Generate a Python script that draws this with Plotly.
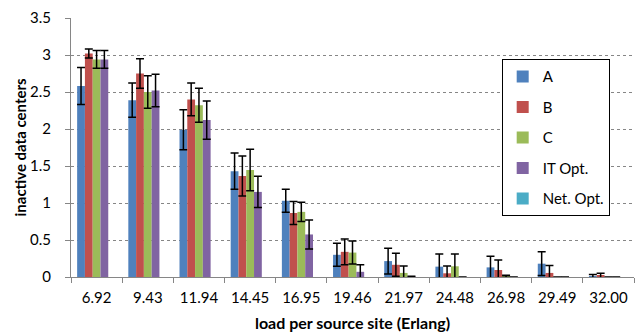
import plotly.graph_objects as go

categories = ["6.92", "9.43", "11.94", "14.45", "16.95", "19.46", "21.97", "24.48", "26.98", "29.49", "32.00"]

a_vals = [2.58, 2.39, 1.99, 1.43, 1.03, 0.30, 0.215, 0.14, 0.13, 0.18, 0.01]
a_err = [0.25, 0.23, 0.27, 0.245, 0.155, 0.155, 0.175, 0.17, 0.15, 0.16, 0.025]
b_vals = [3.02, 2.75, 2.40, 1.365, 0.865, 0.34, 0.165, 0.05, 0.095, 0.055, 0.02]
b_err = [0.06, 0.20, 0.22, 0.27, 0.155, 0.175, 0.155, 0.10, 0.135, 0.10, 0.03]
c_vals = [2.94, 2.50, 2.32, 1.445, 0.88, 0.33, 0.055, 0.145, 0.01, 0, 0]
c_err = [0.12, 0.22, 0.23, 0.28, 0.13, 0.155, 0.095, 0.165, 0.015, None, None]
it_vals = [2.94, 2.52, 2.12, 1.15, 0.575, 0.07, 0.005, 0, 0, 0, 0]
it_err = [0.12, 0.22, 0.26, 0.21, 0.195, 0.095, 0.006, None, None, None, None]
net_vals = [0, 0, 0, 0, 0, 0, 0, 0, 0, 0, 0]

series = [
    ("A", a_vals, a_err, "#4F81BD"),
    ("B", b_vals, b_err, "#C0504D"),
    ("C", c_vals, c_err, "#9BBB59"),
    ("IT Opt.", it_vals, it_err, "#8064A2"),
    ("Net. Opt.", net_vals, None, "#4BACC6"),
]

FONT = "Lato, Carlito, Calibri, sans-serif"

fig = go.Figure()
for i, (name, vals, err, color) in enumerate(series):
    kw = {}
    if err is not None:
        kw["error_y"] = dict(type="data", array=err, visible=True,
                             color="black", thickness=1.5, width=4)
    fig.add_trace(go.Bar(
        x=categories, y=vals, name=name,
        marker=dict(color=color, line=dict(width=0)),
        legendgroup=f"g{i}",
        **kw,
    ))

fig.update_layout(
    width=641, height=335,
    margin=dict(l=71, r=7, t=18, b=58, autoexpand=False),
    paper_bgcolor="white", plot_bgcolor="white",
    barmode="group", bargap=0.24, bargroupgap=0,
    font=dict(family=FONT, size=15, color="black"),
    showlegend=True,
    legend=dict(
        x=0.765, y=0.841, xanchor="left", yanchor="top",
        bordercolor="black", borderwidth=1, bgcolor="white",
        font=dict(family=FONT, size=15, color="black"),
        tracegroupgap=8,
    ),
    xaxis=dict(
        type="category", automargin=False,
        showline=True, linecolor="#868686", linewidth=1,
        ticks="outside", ticklen=5, tickcolor="#868686", tickson="boundaries",
        showgrid=False,
        tickfont=dict(family=FONT, size=15),
        ticklabelstandoff=7,
        title=dict(text="<b>load per source site (Erlang)</b>",
                   font=dict(family=FONT, size=16), standoff=12),
    ),
    yaxis=dict(
        range=[0, 3.5], dtick=0.5, automargin=False,
        showline=True, linecolor="#868686", linewidth=1,
        ticks="outside", ticklen=5, tickcolor="#868686",
        showgrid=True, gridcolor="#868686", gridwidth=1, griddash="dot",
        zeroline=False,
        tickfont=dict(family=FONT, size=15),
        ticklabelstandoff=11,
    ),
    annotations=[dict(
        text="<b>inactive data centers</b>", textangle=-90,
        xref="paper", yref="paper", x=0, y=0.5,
        xanchor="center", yanchor="middle", xshift=-52,
        showarrow=False, font=dict(family=FONT, size=15, color="black"),
    )],
)

fig.write_html("out.html", config={"displayModeBar": False},
               post_script="document.body.style.margin='0';document.body.style.overflow='hidden';")
